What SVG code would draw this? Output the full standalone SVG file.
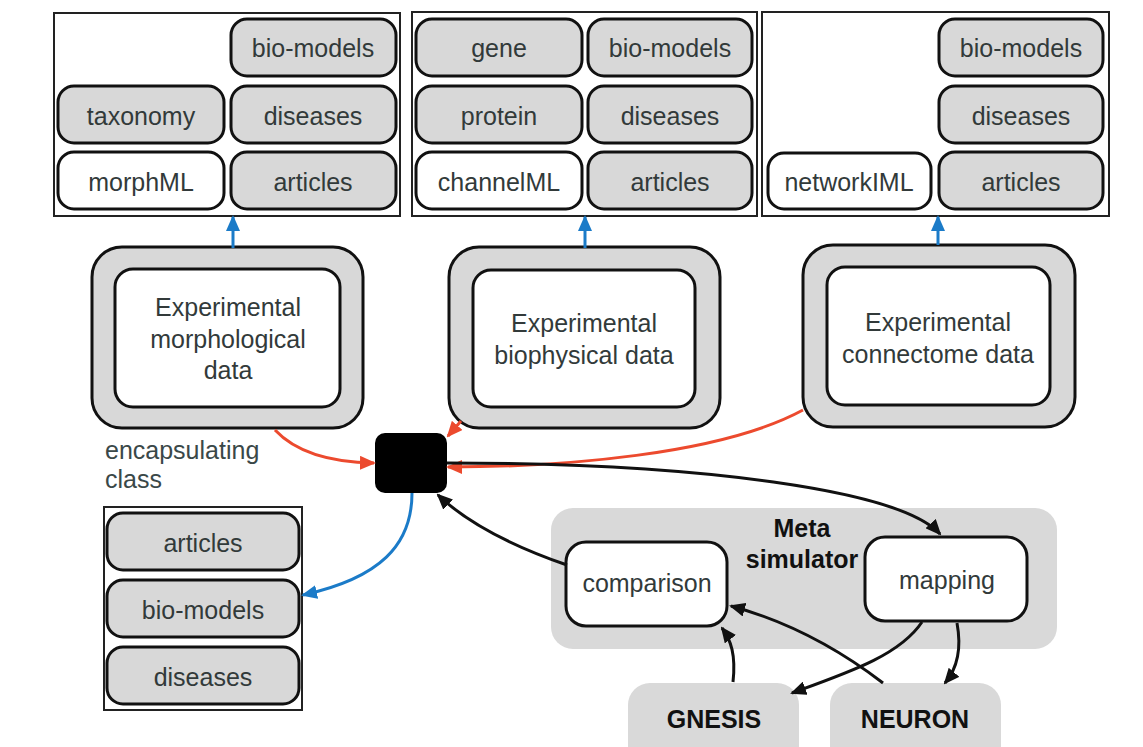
<svg xmlns="http://www.w3.org/2000/svg" width="1143" height="747" viewBox="0 0 1143 747">
<defs>
<style>
.panel{fill:#fff;stroke:#222;stroke-width:2}
.g{fill:#d8d8d8;stroke:#111;stroke-width:3}
.w{fill:#fff;stroke:#111;stroke-width:3}
.t{font-family:"Liberation Sans",Arial,sans-serif;font-size:25px;fill:#323a3a;text-anchor:middle}
.b{font-family:"Liberation Sans",Arial,sans-serif;font-size:25px;font-weight:bold;fill:#111;text-anchor:middle}
.ek{fill:none;stroke:#111;stroke-width:3}
.er{fill:none;stroke:#ec4a2e;stroke-width:3}
.eb{fill:none;stroke:#1b7bc8;stroke-width:3}
</style>
<marker id="ak" markerUnits="userSpaceOnUse" markerWidth="16" markerHeight="14" refX="14" refY="7" orient="auto"><path d="M0,0 L16,7 L0,14 z" fill="#111"/></marker>
<marker id="ar" markerUnits="userSpaceOnUse" markerWidth="16" markerHeight="14" refX="14" refY="7" orient="auto"><path d="M0,0 L16,7 L0,14 z" fill="#ec4a2e"/></marker>
<marker id="ab" markerUnits="userSpaceOnUse" markerWidth="16" markerHeight="14" refX="14" refY="7" orient="auto"><path d="M0,0 L16,7 L0,14 z" fill="#1b7bc8"/></marker>
</defs>
<rect width="1143" height="747" fill="#fff"/>

<g id="panel-morph">
<rect class="panel" x="54" y="13" width="346" height="203"/>
<rect class="g" x="231" y="19" width="165" height="57" rx="16"/><text class="t" x="313" y="57">bio-models</text>
<rect class="g" x="58" y="86" width="166" height="57" rx="16"/><text class="t" x="141" y="125">taxonomy</text>
<rect class="g" x="231" y="86" width="165" height="57" rx="16"/><text class="t" x="313" y="125">diseases</text>
<rect class="w" x="58" y="152" width="166" height="57" rx="16"/><text class="t" x="141" y="191">morphML</text>
<rect class="g" x="231" y="152" width="165" height="57" rx="16"/><text class="t" x="313" y="191">articles</text>
</g>

<g id="panel-channel">
<rect class="panel" x="412" y="12" width="345" height="204"/>
<rect class="g" x="416" y="19" width="166" height="57" rx="16"/><text class="t" x="499" y="57">gene</text>
<rect class="g" x="588" y="19" width="164" height="57" rx="16"/><text class="t" x="670" y="57">bio-models</text>
<rect class="g" x="416" y="86" width="166" height="57" rx="16"/><text class="t" x="499" y="125">protein</text>
<rect class="g" x="588" y="86" width="164" height="57" rx="16"/><text class="t" x="670" y="125">diseases</text>
<rect class="w" x="416" y="152" width="166" height="57" rx="16"/><text class="t" x="499" y="191">channelML</text>
<rect class="g" x="588" y="152" width="164" height="57" rx="16"/><text class="t" x="670" y="191">articles</text>
</g>

<g id="panel-network">
<rect class="panel" x="762" y="12" width="347" height="204"/>
<rect class="g" x="939" y="19" width="164" height="57" rx="16"/><text class="t" x="1021" y="57">bio-models</text>
<rect class="g" x="939" y="86" width="164" height="57" rx="16"/><text class="t" x="1021" y="125">diseases</text>
<rect class="w" x="768" y="153" width="163" height="56" rx="16"/><text class="t" x="849" y="191">networkIML</text>
<rect class="g" x="939" y="152" width="164" height="57" rx="16"/><text class="t" x="1021" y="191">articles</text>
</g>

<g id="exp-morph">
<rect class="g" x="92" y="247" width="271" height="181" rx="30"/>
<rect class="w" x="115" y="269" width="225" height="138" rx="18"/>
<text class="t" x="228" y="316">Experimental</text>
<text class="t" x="228" y="348">morphological</text>
<text class="t" x="228" y="379">data</text>
</g>

<g id="exp-bio">
<rect class="g" x="449" y="247" width="271" height="181" rx="30"/>
<rect class="w" x="473" y="270" width="222" height="137" rx="18"/>
<text class="t" x="584" y="332">Experimental</text>
<text class="t" x="584" y="364">biophysical data</text>
</g>

<g id="exp-conn">
<rect class="g" x="803" y="245" width="272" height="182" rx="30"/>
<rect class="w" x="827" y="267" width="223" height="138" rx="18"/>
<text class="t" x="938" y="331">Experimental</text>
<text class="t" x="938" y="363">connectome data</text>
</g>

<g id="encapsulating-class">
<rect x="375" y="433" width="72" height="60" rx="10" fill="#000"/>
<text class="t" x="105" y="459" style="text-anchor:start;fill:#3a4848">encapsulating</text>
<text class="t" x="105" y="488" style="text-anchor:start;fill:#3a4848">class</text>
</g>

<g id="panel-bottom">
<rect class="panel" x="104" y="507" width="198" height="203"/>
<rect class="g" x="107" y="513" width="192" height="57" rx="16"/><text class="t" x="203" y="552">articles</text>
<rect class="g" x="107" y="580" width="192" height="57" rx="16"/><text class="t" x="203" y="619">bio-models</text>
<rect class="g" x="107" y="647" width="192" height="57" rx="16"/><text class="t" x="203" y="686">diseases</text>
</g>

<g id="meta-simulator">
<rect x="551" y="508" width="506" height="141" rx="22" fill="#d9d9d9"/>
<text class="b" x="802" y="537">Meta</text>
<text class="b" x="802" y="568">simulator</text>
</g>

<g id="comparison">
<rect class="w" x="566" y="542" width="161" height="84" rx="20"/>
<text class="t" x="647" y="592">comparison</text>
</g>

<g id="mapping">
<rect class="w" x="865" y="537" width="162" height="84" rx="20"/>
<text class="t" x="947" y="589">mapping</text>
</g>

<g id="gnesis">
<rect x="628" y="683" width="171" height="90" rx="22" fill="#d9d9d9"/>
<text class="b" x="714" y="728">GNESIS</text>
</g>

<g id="neuron">
<rect x="830" y="683" width="171" height="90" rx="22" fill="#d9d9d9"/>
<text class="b" x="915" y="728">NEURON</text>
</g>

<g id="connectors">
<path class="eb" d="M233,248 L233,217" marker-end="url(#ab)"/>
<path class="eb" d="M585,248 L585,217" marker-end="url(#ab)"/>
<path class="eb" d="M938,245 L938,217" marker-end="url(#ab)"/>
<path class="er" d="M275,430 Q305,462 374,463" marker-end="url(#ar)"/>
<path class="er" d="M461,421 L448,436" marker-end="url(#ar)"/>
<path class="er" d="M803,410 C720,455 560,467 448,467" marker-end="url(#ar)"/>
<path class="ek" d="M447,463 C700,463 900,490 940,534" marker-end="url(#ak)"/>
<path class="ek" d="M567,565 Q480,535 438,495" marker-end="url(#ak)"/>
<path class="eb" d="M412,493 C412,545 380,578 303,595" marker-end="url(#ab)"/>
<path class="ek" d="M733,682 C736,655 731,640 722,628" marker-end="url(#ak)"/>
<path class="ek" d="M883,683 C840,650 790,622 731,606" marker-end="url(#ak)"/>
<path class="ek" d="M922,622 C900,655 850,672 792,693" marker-end="url(#ak)"/>
<path class="ek" d="M957,623 C962,650 956,670 945,683" marker-end="url(#ak)"/>
</g>
</svg>
